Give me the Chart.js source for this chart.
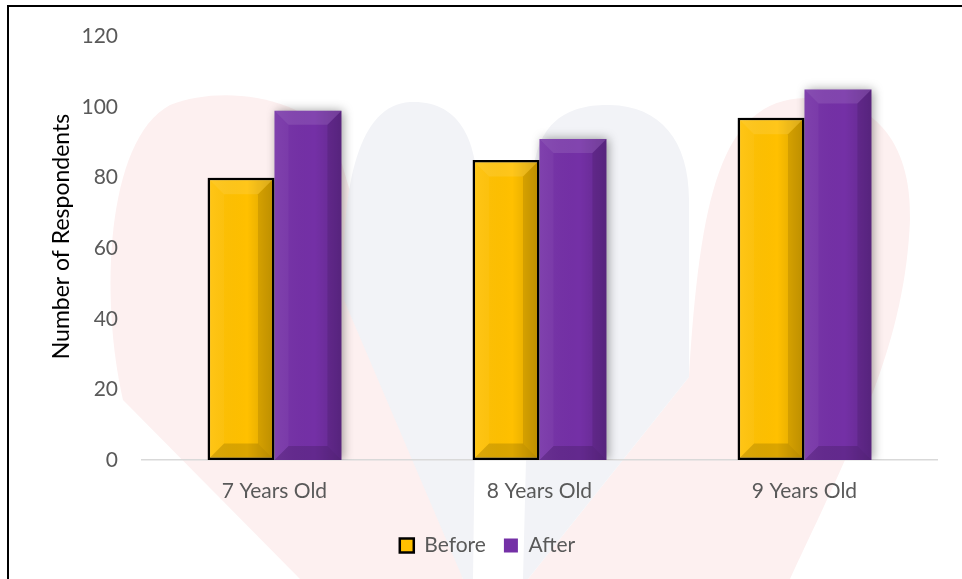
<!DOCTYPE html>
<html>
<head>
<meta charset="utf-8">
<script src="https://cdn.jsdelivr.net/npm/chart.js@4"></script>
<style>
  html, body { margin: 0; padding: 0; background: #fff; }
  #wrap { position: relative; width: 962px; height: 579px; overflow: hidden; }
  #frame {
    position: absolute; left: 7px; top: 5px; width: 1000px; height: 600px;
    border-left: 2px solid #000; border-top: 2px solid #000; pointer-events: none;
  }
  canvas { position: absolute; left: 0; top: 0; }
</style>
</head>
<body>
<div id="wrap">
  <canvas id="chart" width="962" height="579"></canvas>
  <div id="frame"></div>
</div>
<script>
const ageGroups = ["7 Years Old", "8 Years Old", "9 Years Old"];
const beforeCounts = [80, 85, 97];
const afterCounts = [99, 91, 105];
const yTicks = [0, 20, 40, 60, 80, 100, 120];

const FONT = "Lato, 'Open Sans', sans-serif";
const GREY = "#595959";

// faint logo in the background
const watermark = {
  id: "watermark",
  beforeDraw(chart) {
    const c = chart.ctx;
    c.save();
    c.fillStyle = "#fdf0f0";
    c.beginPath();
    c.moveTo(300, 579);
    c.lineTo(123, 400);
    c.bezierCurveTo(100, 300, 105, 140, 170, 105);
    c.bezierCurveTo(220, 85, 300, 95, 335, 140);
    c.lineTo(463, 579);
    c.closePath();
    c.fill();
    c.beginPath();
    c.moveTo(528, 579);
    c.lineTo(689, 377);
    c.bezierCurveTo(700, 200, 720, 100, 805, 98);
    c.bezierCurveTo(880, 96, 912, 150, 910, 220);
    c.bezierCurveTo(905, 340, 860, 430, 790, 579);
    c.closePath();
    c.fill();
    c.fillStyle = "#f2f3f7";
    c.beginPath();
    c.moveTo(463, 579);
    c.lineTo(344, 300);
    c.bezierCurveTo(340, 180, 360, 105, 410, 102);
    c.bezierCurveTo(460, 100, 478, 140, 478, 200);
    c.lineTo(473, 579);
    c.closePath();
    c.fill();
    c.beginPath();
    c.moveTo(523, 579);
    c.lineTo(533, 180);
    c.bezierCurveTo(535, 120, 570, 104, 610, 105);
    c.bezierCurveTo(660, 106, 689, 140, 689, 200);
    c.lineTo(689, 377);
    c.lineTo(528, 579);
    c.closePath();
    c.fill();
    c.restore();
  }
};

// soft shadow behind the bars
const barShadow = {
  id: "barShadow",
  beforeDatasetDraw(chart) {
    const c = chart.ctx;
    c.save();
    c.shadowColor = "rgba(0,0,0,0.4)";
    c.shadowBlur = 10;
    c.shadowOffsetX = 2;
    c.shadowOffsetY = 0;
  },
  afterDatasetDraw(chart) {
    chart.ctx.restore();
  }
};

// bevelled faces on each bar
const bevel = {
  id: "bevel",
  afterDatasetsDraw(chart) {
    const c = chart.ctx;
    chart.data.datasets.forEach((ds, i) => {
      const inset = ds.borderWidth || 0;
      chart.getDatasetMeta(i).data.forEach(bar => {
        const l = bar.x - bar.width / 2 + inset;
        const r = bar.x + bar.width / 2 - inset;
        const t = bar.y + inset;
        const b = bar.base - inset;
        const s = 14;
        const quad = (pts, fill) => {
          c.beginPath();
          c.moveTo(pts[0][0], pts[0][1]);
          for (let k = 1; k < pts.length; k++) c.lineTo(pts[k][0], pts[k][1]);
          c.closePath();
          c.fillStyle = fill;
          c.fill();
        };
        c.save();
        const g = c.createLinearGradient(l, 0, r, 0);
        g.addColorStop(0, "rgba(255,255,255,0.05)");
        g.addColorStop(0.6, "rgba(0,0,0,0)");
        g.addColorStop(1, "rgba(0,0,0,0.16)");
        c.fillStyle = g;
        c.fillRect(l, t, r - l, b - t);
        quad([[l, t], [r, t], [r - s, t + s], [l + s, t + s]], "rgba(255,255,255,0.10)");
        quad([[r, t], [r, b], [r - s, b - s], [r - s, t + s]], "rgba(0,0,0,0.10)");
        quad([[l, b], [r, b], [r - s, b - s], [l + s, b - s]], "rgba(0,0,0,0.14)");
        quad([[l, t], [l + s, t + s], [l + s, b - s], [l, b]], "rgba(255,255,255,0.04)");
        c.restore();
      });
    });
  }
};

new Chart(document.getElementById("chart"), {
  type: "bar",
  data: {
    labels: ageGroups,
    datasets: [
      {
        label: "Before",
        data: beforeCounts,
        backgroundColor: "#FFC000",
        borderColor: "#000000",
        borderWidth: 2.5,
        borderSkipped: false
      },
      {
        label: "After",
        data: afterCounts,
        backgroundColor: "#7430A6",
        borderWidth: 0
      }
    ]
  },
  plugins: [watermark, barShadow, bevel],
  options: {
    responsive: false,
    animation: false,
    events: [],
    layout: { padding: { left: 38, right: 25, top: 33, bottom: 13 } },
    datasets: {
      bar: { categoryPercentage: 0.505, barPercentage: 1.0 }
    },
    scales: {
      x: {
        grid: { display: false, drawTicks: false },
        border: { color: "#d9d9d9", width: 1.5 },
        ticks: { color: GREY, font: { family: FONT, size: 21 }, padding: 19 },
        afterFit: s => { s.height = 57; }
      },
      y: {
        min: 0,
        max: 120,
        afterBuildTicks: s => { s.ticks = yTicks.map(v => ({ value: v })); },
        grid: { display: false, drawTicks: false },
        border: { display: false },
        ticks: { color: GREY, font: { family: FONT, size: 21 }, padding: 24 },
        title: {
          display: true,
          // leading spaces nudge the rotated title a little upward
          text: "    Number of Respondents",
          color: "#000",
          font: { family: FONT, size: 23 },
          padding: { top: 10, bottom: 0 }
        },
        afterFit: s => { s.width = 104; }
      }
    },
    plugins: {
      legend: {
        position: "bottom",
        labels: {
          color: GREY,
          font: { family: FONT, size: 21 },
          boxWidth: 14,
          boxHeight: 14,
          padding: 18
        }
      },
      tooltip: { enabled: false }
    }
  }
});
</script>
</body>
</html>
